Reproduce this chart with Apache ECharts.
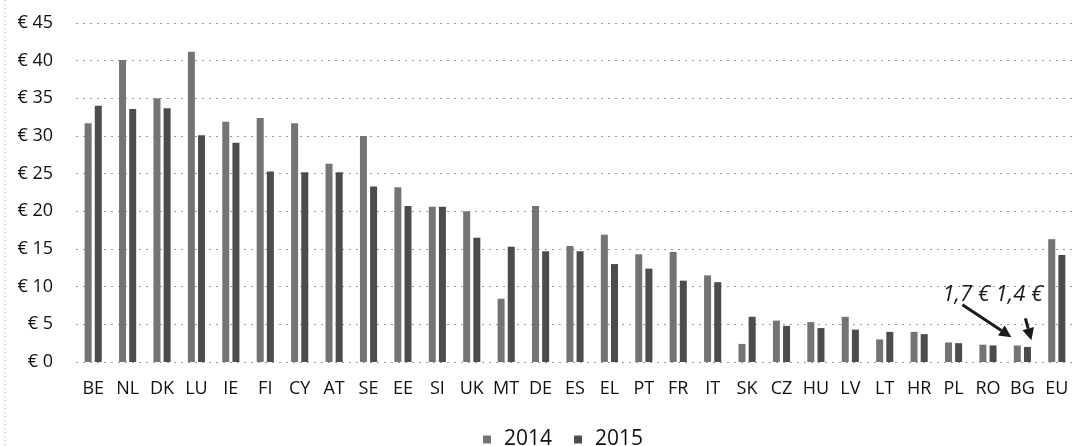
<!DOCTYPE html>
<html>
<head>
<meta charset="utf-8">
<script src="https://cdn.jsdelivr.net/npm/echarts@6/dist/echarts.min.js"></script>
<style>
  html, body { margin: 0; padding: 0; background: #fff; }
  #main { width: 1074px; height: 446px; }
</style>
</head>
<body>
<div id="main"></div>
<script>
// data
var countries = ['BE', 'NL', 'DK', 'LU', 'IE', 'FI', 'CY', 'AT', 'SE', 'EE', 'SI', 'UK', 'MT', 'DE',
                 'ES', 'EL', 'PT', 'FR', 'IT', 'SK', 'CZ', 'HU', 'LV', 'LT', 'HR', 'PL', 'RO', 'BG', 'EU'];
var values2014 = [31.7, 40.1, 35.0, 41.2, 31.9, 32.4, 31.7, 26.3, 30.0, 23.2, 20.6, 20.0, 8.4, 20.7,
                  15.4, 16.9, 14.3, 14.6, 11.5, 2.4, 5.5, 5.3, 6.0, 3.0, 4.0, 2.6, 2.3, 2.2, 16.3];
var values2015 = [34.0, 33.6, 33.7, 30.1, 29.1, 25.3, 25.2, 25.2, 23.3, 20.7, 20.6, 16.5, 15.3, 14.7,
                  14.7, 13.0, 12.4, 10.8, 10.6, 6.0, 4.8, 4.5, 4.3, 4.0, 3.7, 2.5, 2.2, 2.0, 14.2];
var seriesNames = ['2014', '2015'];
var noteText = '1,7 € 1,4 €';

var myChart = echarts.init(document.getElementById('main'));

var font = '"Open Sans", sans-serif';

myChart.setOption({
    animation: false,
    textStyle: { fontFamily: font },
    grid: {
        left: 76,
        right: -3,
        top: 23,
        height: 339
    },
    legend: {
        data: seriesNames,
        top: 424,
        left: 478,
        itemWidth: 8,
        itemHeight: 8,
        itemGap: 22,
        icon: 'rect',
        textStyle: { fontSize: 21, color: '#111', fontFamily: font, padding: [0, 0, 0, 8] }
    },
    xAxis: {
        type: 'category',
        data: countries,
        axisLine: { show: false },
        axisTick: { show: false },
        axisLabel: { fontSize: 18, color: '#111', margin: 18, interval: 0, fontFamily: font }
    },
    yAxis: {
        type: 'value',
        min: 0,
        max: 45,
        interval: 5,
        axisLine: { show: false },
        axisTick: { show: false },
        axisLabel: {
            fontSize: 18,
            color: '#111',
            margin: 23,
            fontFamily: font,
            formatter: function (v) { return '€ ' + v; }
        },
        splitLine: {
            lineStyle: { color: '#9a9a9a', type: [2, 5], width: 1 }
        }
    },
    series: [
        {
            name: seriesNames[0],
            type: 'bar',
            barWidth: 7,
            barGap: '45%',
            itemStyle: { color: '#747474' },
            data: values2014
        },
        {
            name: seriesNames[1],
            type: 'bar',
            barWidth: 7,
            itemStyle: { color: '#4c4c4c' },
            data: values2015
        }
    ]
});

// annotation pointing at the BG bars, placed through the chart's own scales
function px(cat, val, dx) {
    var p = myChart.convertToPixel({ gridIndex: 0 }, [cat, val]);
    return [p[0] + dx, p[1]];
}
function arrow(a, b) {
    var ang = Math.atan2(b[1] - a[1], b[0] - a[0]);
    var len = 12, w = 6;
    var base = [b[0] - len * Math.cos(ang), b[1] - len * Math.sin(ang)];
    var nx = -Math.sin(ang) * w, ny = Math.cos(ang) * w;
    return [
        { type: 'line', shape: { x1: a[0], y1: a[1], x2: base[0], y2: base[1] },
          style: { stroke: '#1a1a1a', lineWidth: 3 } },
        { type: 'polygon', shape: { points: [b, [base[0] + nx, base[1] + ny], [base[0] - nx, base[1] - ny]] },
          style: { fill: '#1a1a1a' } }
    ];
}
var textPos = px('BG', 8.9, -80);
var elements = [
    { type: 'text', x: textPos[0], y: textPos[1],
      style: { text: noteText, fontSize: 22, fontStyle: 'italic', fontFamily: font,
               fill: '#1a1a1a', verticalAlign: 'middle', align: 'left' } },
    { type: 'line', shape: { x1: 5, y1: 0, x2: 5, y2: 446 },
      style: { stroke: '#b0b0b0', lineWidth: 1, lineDash: [1, 3] } }
];
elements = elements.concat(arrow(px('BG', 7.6, -60), px('BG', 3.3, -11)));
elements = elements.concat(arrow(px('BG', 5.8, 3), px('BG', 2.9, 9)));
myChart.setOption({ graphic: elements });
</script>
</body>
</html>
